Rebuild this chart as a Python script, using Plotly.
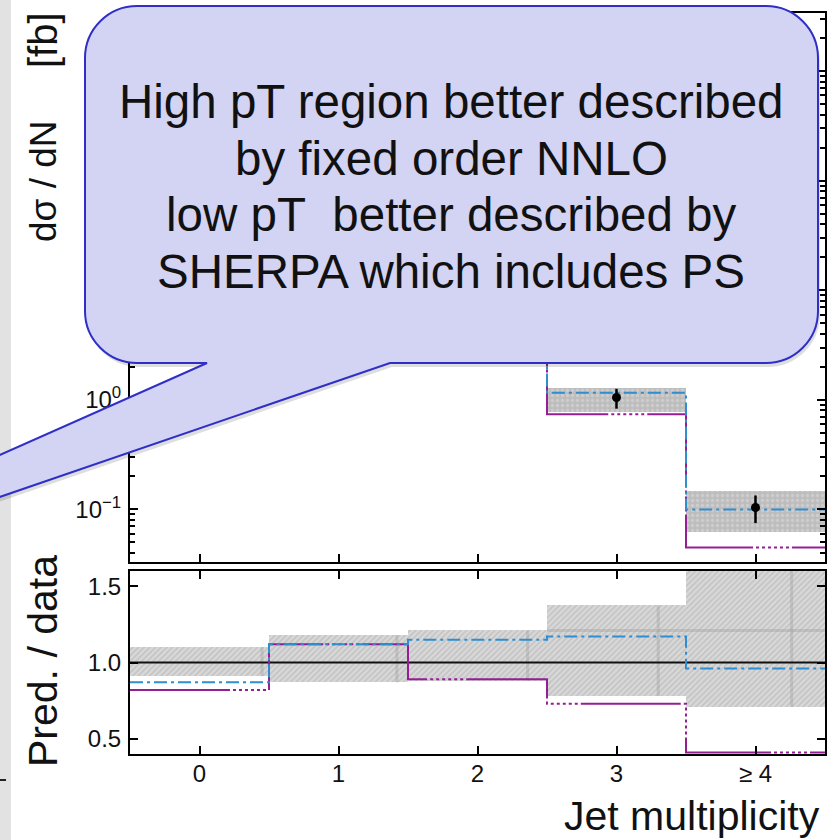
import plotly.graph_objects as go

# ---------------------------------------------------------------
# Jet multiplicity bins
# ---------------------------------------------------------------
jet_bins = [0, 1, 2, 3, 4]
bin_labels = ["0", "1", "2", "3", "≥ 4"]

# Upper panel: differential cross section dσ/dN [fb]
data_xsec = [700.0, 110.0, 9.0, 1.05, 0.104]
data_err_lo = [640.0, 100.0, 8.0, 0.83, 0.075]
data_err_hi = [760.0, 120.0, 10.0, 1.26, 0.134]
nnlo_xsec = [610.0, 123.0, 10.4, 1.16, 0.100]      # fixed-order NNLO (blue dash-dot)
sherpa_xsec = [575.0, 123.0, 8.0, 0.74, 0.045]     # SHERPA (purple)
band_lo = [620.0, 95.0, 7.5, 0.78, 0.062]
band_hi = [780.0, 128.0, 10.8, 1.285, 0.148]

# Lower panel: prediction / data
ratio_nnlo = [0.87, 1.12, 1.15, 1.17, 0.96]
ratio_sherpa = [0.82, 1.12, 0.89, 0.73, 0.41]
ratio_band_lo = [0.91, 0.87, 0.88, 0.78, 0.71]
ratio_band_hi = [1.10, 1.18, 1.21, 1.375, 1.62]
ratio_ref = [1.0, 1.0, 1.0, 1.0, 1.0]
# inner (statistical) band markers inside the ratio band
ratio_inner_x = [0.45, 1.42, 2.36, 3.30, 4.26]
ratio_inner_hi_x = [2.5, 4.5]
ratio_inner_hi = [1.21, 1.21]

# Callout text
bubble_lines = [
    "High pT region better described",
    "by fixed order NNLO",
    "low pT\u00a0 better described by",
    "SHERPA which includes PS",
]

W, H = 831, 840
FONT = "Liberation Sans, Arial, Helvetica, sans-serif"
BLUE = "#2f8dd0"
PURPLE = "#951e95"
PURPLE_DASH = "100px,3px" + ",3px,3px" * 6
BLUE_DASH = "13px,4px,3px,4px"
TICK_FONT = dict(family=FONT, size=24, color="#111111")


def px(x):
    return x / W


def py(y):
    return 1 - y / H


def step(vals):
    edges = [b - 0.5 for b in jet_bins] + [jet_bins[-1] + 0.5]
    return edges, list(vals) + [vals[-1]]


fig = go.Figure()

# uncertainty bands
fig.add_trace(go.Bar(
    x=jet_bins, base=band_lo, y=[h - l for h, l in zip(band_hi, band_lo)],
    width=1.0, xaxis="x", yaxis="y", showlegend=False,
    marker=dict(color="#c0c0c0", line=dict(width=0),
                pattern=dict(shape=".", fgcolor="#dedede", bgcolor="#bdbdbd",
                             size=5, solidity=0.35)),
))
fig.add_trace(go.Bar(
    x=jet_bins, base=ratio_band_lo, y=[h - l for h, l in zip(ratio_band_hi, ratio_band_lo)],
    width=1.0, xaxis="x2", yaxis="y2", showlegend=False,
    marker=dict(color="#d4d4d4", line=dict(width=0),
                pattern=dict(shape="/", fgcolor="#a8a8a8", bgcolor="#d8d8d8",
                             size=4, solidity=0.35)),
))

# faint inner-band edges in the ratio panel
vx, vy = [], []
for x, lo, hi in zip(ratio_inner_x, ratio_band_lo, ratio_band_hi):
    vx += [x, x, None]
    vy += [lo, hi, None]
fig.add_trace(go.Scatter(x=vx + ratio_inner_hi_x, y=vy + ratio_inner_hi, mode="lines",
                         xaxis="x2", yaxis="y2", showlegend=False, hoverinfo="skip",
                         line=dict(color="rgba(160,160,160,0.4)", width=3)))

# predictions, upper panel
xs, ys = step(sherpa_xsec)
fig.add_trace(go.Scatter(x=xs, y=ys, mode="lines", line_shape="hv", xaxis="x", yaxis="y",
                         line=dict(color=PURPLE, width=2, dash=PURPLE_DASH),
                         showlegend=False))
xs, ys = step(nnlo_xsec)
fig.add_trace(go.Scatter(x=xs, y=ys, mode="lines", line_shape="hv", xaxis="x", yaxis="y",
                         line=dict(color=BLUE, width=2, dash=BLUE_DASH),
                         showlegend=False))

# data points
fig.add_trace(go.Scatter(
    x=jet_bins, y=data_xsec, mode="markers", xaxis="x", yaxis="y", showlegend=False,
    marker=dict(color="black", size=9),
    error_y=dict(type="data", symmetric=False,
                 array=[h - d for h, d in zip(data_err_hi, data_xsec)],
                 arrayminus=[d - l for d, l in zip(data_xsec, data_err_lo)],
                 color="black", thickness=2.5, width=0),
))

# ratio panel
xs, ys = step(ratio_ref)
fig.add_trace(go.Scatter(x=xs, y=ys, mode="lines", xaxis="x2", yaxis="y2",
                         line=dict(color="#111111", width=2), showlegend=False))
xs, ys = step(ratio_sherpa)
fig.add_trace(go.Scatter(x=xs, y=ys, mode="lines", line_shape="hv", xaxis="x2", yaxis="y2",
                         line=dict(color=PURPLE, width=2, dash=PURPLE_DASH),
                         showlegend=False))
xs, ys = step(ratio_nnlo)
fig.add_trace(go.Scatter(x=xs, y=ys, mode="lines", line_shape="hv", xaxis="x2", yaxis="y2",
                         line=dict(color=BLUE, width=2, dash=BLUE_DASH),
                         showlegend=False))

axis_common = dict(
    showline=True, linecolor="black", linewidth=2, mirror="allticks",
    ticks="inside", ticklen=8, tickwidth=2, tickcolor="black",
    showgrid=False, zeroline=False,
)

log_minor = [m * 10.0 ** e for e in range(-2, 4) for m in range(2, 10)]

fig.update_layout(
    width=W, height=H,
    margin=dict(l=0, r=0, t=0, b=0),
    paper_bgcolor="white", plot_bgcolor="white",
    barmode="overlay", bargap=0,
    xaxis=dict(axis_common, domain=[px(130), px(825)], range=[-0.5, 4.5], anchor="y",
               tickvals=jet_bins, showticklabels=False),
    yaxis=dict(axis_common, domain=[py(562), py(13)], type="log", range=[-1.48, 3.53],
               anchor="x", tickvals=[0.1, 1, 10, 100, 1000],
               ticktext=["10<sup>−1</sup>", "10<sup>0</sup>", "10<sup>1</sup>",
                         "10<sup>2</sup>", "10<sup>3</sup>"],
               minor=dict(tickmode="array", tickvals=log_minor, ticks="inside",
                          ticklen=5, tickwidth=1.5, tickcolor="black")),
    xaxis2=dict(axis_common, domain=[px(130), px(825)], range=[-0.5, 4.5], anchor="y2",
                tickvals=jet_bins, ticktext=bin_labels),
    yaxis2=dict(axis_common, domain=[py(754), py(571)], range=[0.4, 1.6], anchor="x2",
                tickvals=[0.5, 1.0, 1.5], ticktext=["0.5", "1.0", "1.5"]),
)
fig.update_xaxes(tickfont=TICK_FONT)
fig.update_yaxes(tickfont=TICK_FONT, ticklabelstandoff=2)
fig.update_layout(xaxis2_ticklabelstandoff=-3)


def label(text, x, y, size, angle=0, xanchor="center"):
    fig.add_annotation(text=text, x=px(x), y=py(y), xref="paper", yref="paper",
                       xanchor=xanchor, yanchor="middle", textangle=angle,
                       showarrow=False,
                       font=dict(family=FONT, size=size, color="#111111"))


# axis titles
label("dσ / dN", 43, 181, 37, angle=-90)
label("[fb]", 43, 40, 40, angle=-90)
label("Pred. / data", 43, 661, 41, angle=-90)
label("Jet multiplicity", 822, 816, 41, xanchor="right")

# ---------------------------------------------------------------
# Callout bubble drawn over the plot
# ---------------------------------------------------------------
def bubble_path(x0, y0, x1, y1, r, p_left, p_right, tip, dx=0.0, dy=0.0):
    k = 0.5523 * r

    def P(x, y):
        return f"{px(x + dx):.5f},{py(y + dy):.5f}"

    return " ".join([
        f"M {P(x0 + r, y0)}",
        f"L {P(x1 - r, y0)}",
        f"C {P(x1 - r + k, y0)} {P(x1, y0 + r - k)} {P(x1, y0 + r)}",
        f"L {P(x1, y1 - r)}",
        f"C {P(x1, y1 - r + k)} {P(x1 - r + k, y1)} {P(x1 - r, y1)}",
        f"L {P(p_right, y1)}",
        f"L {P(*tip)}",
        f"L {P(p_left, y1)}",
        f"L {P(x0 + r, y1)}",
        f"C {P(x0 + r - k, y1)} {P(x0, y1 - r + k)} {P(x0, y1 - r)}",
        f"L {P(x0, y0 + r)}",
        f"C {P(x0, y0 + r - k)} {P(x0 + r - k, y0)} {P(x0 + r, y0)}",
        "Z",
    ])


bubble = dict(x0=85, y0=6, x1=818, y1=363, r=52, p_left=207, p_right=390, tip=(-417, 640))

shapes = [
    # slide margin strip on the left
    dict(type="rect", xref="paper", yref="paper", x0=0, x1=px(11), y0=0, y1=1,
         fillcolor="#e2e2e2", line=dict(width=0), layer="below"),
    dict(type="line", xref="paper", yref="paper", x0=0, x1=px(6), y0=py(780), y1=py(780),
         line=dict(color="#222222", width=2), layer="above"),
    # soft shadow
    dict(type="path", xref="paper", yref="paper", path=bubble_path(**bubble, dx=2, dy=4),
         fillcolor="rgba(0,0,0,0.13)", line=dict(width=0), layer="above"),
    dict(type="path", xref="paper", yref="paper", path=bubble_path(**bubble),
         fillcolor="#d3d3f3", line=dict(color="#2f2fc8", width=2), layer="above"),
]
fig.update_layout(shapes=shapes)

line_y = [101, 158, 215, 272]
for txt, yy in zip(bubble_lines, line_y):
    label(txt, 451, yy, 47.5)

fig.write_html("out.html")
